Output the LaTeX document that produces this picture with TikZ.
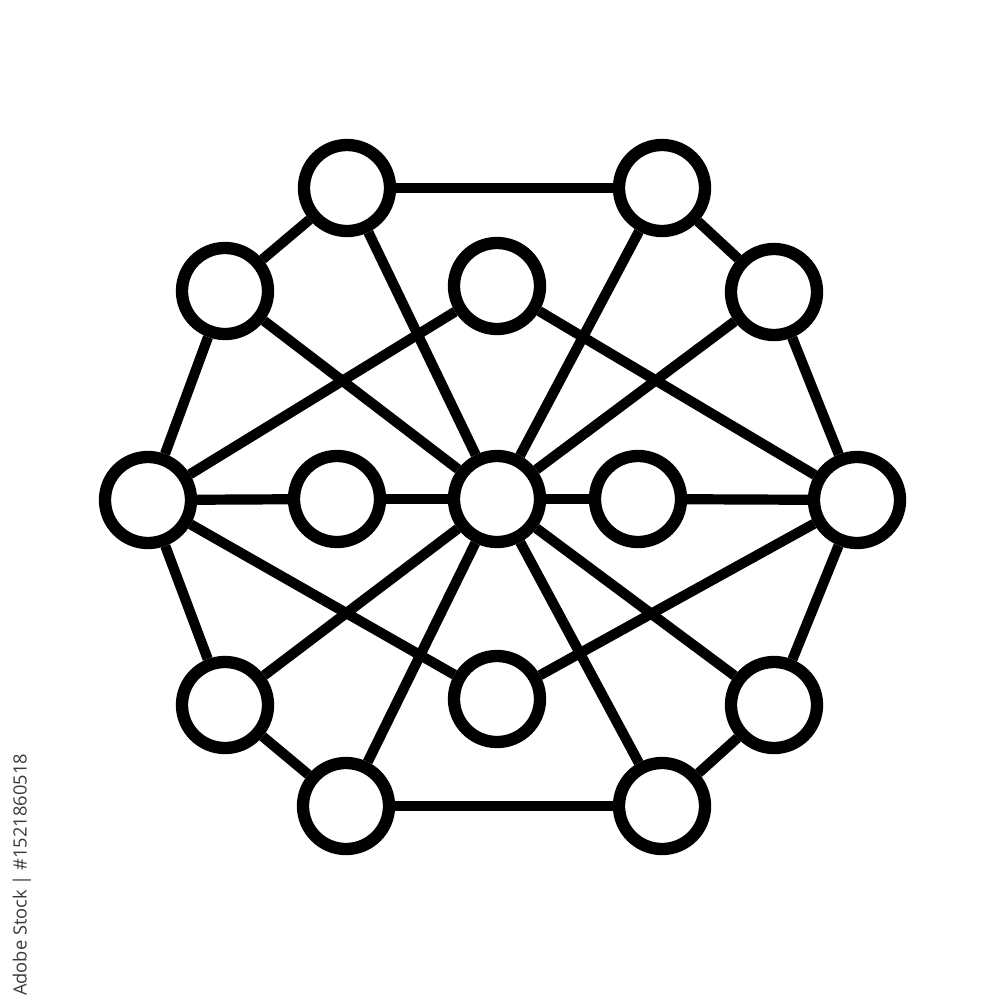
\documentclass[tikz,border=0pt]{standalone}
\usepackage{fontspec}
\newfontfamily\wmfont{Open Sans}
\usetikzlibrary{backgrounds}
\definecolor{wmgray}{HTML}{3A3A3A}
\begin{document}
\begin{tikzpicture}[x=0.01cm,y=-0.01cm,
  nd/.style={circle,draw=black,fill=white,line width=3.5pt,minimum size=0.86cm,inner sep=0pt},
  link/.style={draw=black,line width=2.9pt}]
\useasboundingbox (0,0) rectangle (1000,1000);
\node[nd] (TL) at (347,188) {};
\node[nd] (TR) at (662,188) {};
\node[nd] (UL) at (225,291) {};
\node[nd] (UR) at (774,292) {};
\node[nd] (TC) at (497,286) {};
\node[nd] (L)  at (148,500) {};
\node[nd] (CL) at (337,499) {};
\node[nd] (C)  at (497,499) {};
\node[nd] (CR) at (638,499) {};
\node[nd] (R)  at (857,500) {};
\node[nd] (BC) at (497,699) {};
\node[nd] (LL) at (225,705) {};
\node[nd] (LR) at (774,705) {};
\node[nd] (BL) at (346,806) {};
\node[nd] (BR) at (662,806) {};
\begin{scope}[on background layer]
\path[link] (TL) -- (TR);
\path[link] (TL) -- (UL);
\path[link] (TR) -- (UR);
\path[link] (UL) -- (L);
\path[link] (UR) -- (R);
\path[link] (L) -- (LL);
\path[link] (R) -- (LR);
\path[link] (LL) -- (BL);
\path[link] (LR) -- (BR);
\path[link] (BL) -- (BR);
\path[link] (L) -- (CL);
\path[link] (CL) -- (C);
\path[link] (C) -- (CR);
\path[link] (CR) -- (R);
\path[link] (C) -- (TL);
\path[link] (C) -- (TR);
\path[link] (C) -- (UL);
\path[link] (C) -- (UR);
\path[link] (C) -- (LL);
\path[link] (C) -- (LR);
\path[link] (C) -- (BL);
\path[link] (C) -- (BR);
\path[link] (TC) -- (L);
\path[link] (TC) -- (R);
\path[link] (BC) -- (L);
\path[link] (BC) -- (R);
\end{scope}
\node[rotate=90,anchor=center,text=wmgray,font=\wmfont\fontsize{5.2pt}{6pt}\selectfont,inner sep=0pt] (wm) at (22,875) {Adobe Stock | \#1521860518};
\end{tikzpicture}
\end{document}
